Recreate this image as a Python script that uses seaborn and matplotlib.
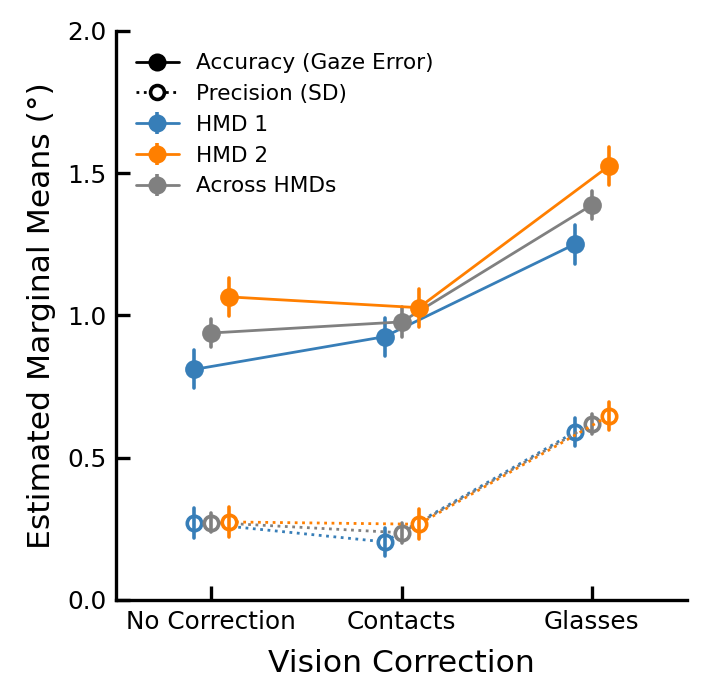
import numpy as np
import pandas as pd
import matplotlib.pyplot as plt
import seaborn as sns
from matplotlib.lines import Line2D

# Estimated marginal means (deg) and standard errors
conditions = ['No Correction', 'Contacts', 'Glasses']
groups = ['HMD 1', 'Across HMDs', 'HMD 2']

acc_mean = {'HMD 1': [0.81, 0.925, 1.25],
            'Across HMDs': [0.938, 0.977, 1.388],
            'HMD 2': [1.065, 1.027, 1.525]}
acc_se = {'HMD 1': [0.067, 0.067, 0.068],
          'Across HMDs': [0.05, 0.052, 0.05],
          'HMD 2': [0.067, 0.067, 0.068]}

prec_mean = {'HMD 1': [0.271, 0.204, 0.59],
             'Across HMDs': [0.272, 0.236, 0.619],
             'HMD 2': [0.274, 0.266, 0.647]}
prec_se = {'HMD 1': [0.053, 0.05, 0.05],
           'Across HMDs': [0.035, 0.035, 0.035],
           'HMD 2': [0.053, 0.052, 0.05]}

palette = {'HMD 1': '#377eb8', 'HMD 2': '#ff7f00', 'Across HMDs': 'gray'}


def long_form(means, ses):
    # two rows per point (mean - se, mean + se): mean gives the point, min/max the bar
    rows = []
    for g in groups:
        for c, m, s in zip(conditions, means[g], ses[g]):
            rows.append({'Vision Correction': c, 'Group': g, 'value': m - s})
            rows.append({'Vision Correction': c, 'Group': g, 'value': m + s})
    return pd.DataFrame(rows)


acc_df = long_form(acc_mean, acc_se)
prec_df = long_form(prec_mean, prec_se)

sns.set_style('ticks', {'axes.edgecolor': 'black', 'text.color': 'black',
                        'axes.labelcolor': 'black', 'xtick.color': 'black',
                        'ytick.color': 'black',
                        'xtick.direction': 'in', 'ytick.direction': 'in'})
plt.rcParams['font.family'] = ['DejaVu Sans']

fig, ax = plt.subplots(figsize=(3.545, 3.5), dpi=200)
fig.subplots_adjust(left=0.164, right=0.969, top=0.956, bottom=0.143)

span = lambda v: (v.min(), v.max())

sns.pointplot(data=acc_df, x='Vision Correction', y='value', hue='Group',
              order=conditions, hue_order=groups, palette=palette,
              estimator='mean', errorbar=span, dodge=0.18,
              markers='o', linestyles='-', linewidth=1.0, markersize=6,
              err_kws={'linewidth': 1.3}, legend=False, ax=ax)

sns.pointplot(data=prec_df, x='Vision Correction', y='value', hue='Group',
              order=conditions, hue_order=groups, palette=palette,
              estimator='mean', errorbar=span, dodge=0.18,
              markers='o', linestyles=':', linewidth=1.0, markersize=5.2,
              markerfacecolor='white', markeredgewidth=1.3,
              err_kws={'linewidth': 1.3}, legend=False, ax=ax)

ax.set_ylim(0, 2.0)
ax.set_xlim(-0.5, 2.5)
ax.set_yticks([0, 0.5, 1.0, 1.5, 2.0])
ax.set_xlabel('Vision Correction', fontsize=11.3, labelpad=5.5)
ax.set_ylabel('Estimated Marginal Means (°)', fontsize=11.3)
ax.tick_params(direction='in', labelsize=8.9, width=1.2, length=5, colors='black')
for side in ['left', 'bottom']:
    ax.spines[side].set_linewidth(1.2)
sns.despine(ax=ax)

# legend handles
handles = [Line2D([], [], color='black', marker='o', linestyle='-', lw=1.0, markersize=5.5),
           Line2D([], [], color='black', marker='o', linestyle=':', lw=1.0, markersize=5,
                  markerfacecolor='white', markeredgewidth=1.3)]
for g in ['HMD 1', 'HMD 2', 'Across HMDs']:
    handles.append(ax.errorbar([np.nan], [np.nan], yerr=[np.nan], color=palette[g],
                               marker='o', markersize=5.5, lw=1.0, elinewidth=1.3))
labels = ['Accuracy (Gaze Error)', 'Precision (SD)', 'HMD 1', 'HMD 2', 'Across HMDs']
ax.legend(handles, labels, loc='upper left', frameon=False, fontsize=7.8,
          handlelength=2.0, bbox_to_anchor=(0.0, 0.995))

fig.savefig('out.png', dpi=200)
